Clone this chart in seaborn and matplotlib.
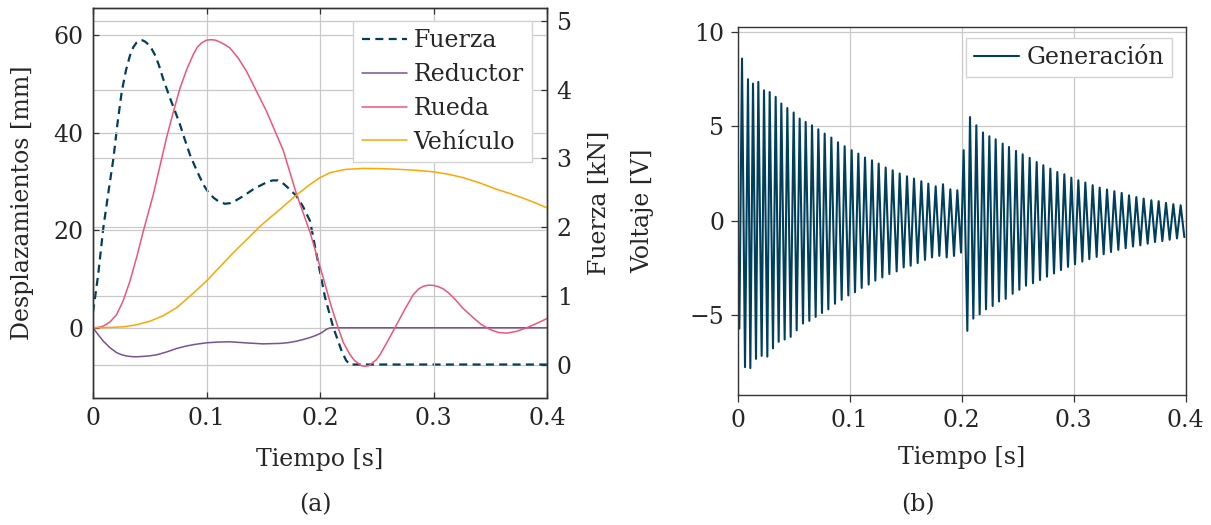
import numpy as np
import pandas as pd
import matplotlib
matplotlib.use("Agg")
import matplotlib.pyplot as plt
import seaborn as sns

# ---------------- data: panel (a) ----------------
fuerza_t = [0, 0.0045, 0.0091, 0.0135, 0.018, 0.0215, 0.0253, 0.029, 0.0326, 0.0355,
            0.0385, 0.0410, 0.0435, 0.0460, 0.0487, 0.0515, 0.0545, 0.0580, 0.0620, 0.0678,
            0.0720, 0.0767, 0.0810, 0.0855, 0.0915, 0.0972, 0.1015, 0.1061, 0.1110, 0.1163,
            0.1210, 0.1260, 0.1322, 0.1420, 0.1527, 0.1580, 0.1630, 0.1680, 0.1740, 0.1794,
            0.1850, 0.1912, 0.1970, 0.2044, 0.2117, 0.2190, 0.2230, 0.2264, 0.4]
fuerza_kn = [0.76, 1.30, 1.99, 2.50, 3.00, 3.50, 3.97, 4.28, 4.50, 4.62,
             4.69, 4.72, 4.72, 4.70, 4.66, 4.60, 4.51, 4.36, 4.15, 3.88,
             3.70, 3.49, 3.27, 3.05, 2.82, 2.62, 2.51, 2.43, 2.37, 2.34,
             2.35, 2.39, 2.45, 2.56, 2.65, 2.68, 2.68, 2.63, 2.54, 2.45,
             2.30, 2.09, 1.60, 0.98, 0.54, 0.20, 0.06, 0.0, 0.0]

reductor_t = [0, 0.0045, 0.0091, 0.015, 0.0208, 0.0255, 0.0300, 0.0345, 0.0385, 0.045,
              0.0500, 0.056, 0.065, 0.0736, 0.082, 0.09, 0.1, 0.11, 0.1207, 0.1350,
              0.1498, 0.1650, 0.1720, 0.1792, 0.1860, 0.1912, 0.1960, 0.1999, 0.2030, 0.2058,
              0.2085, 0.2110, 0.4]
reductor_mm = [0, -1.4, -2.75, -4.1, -5.1, -5.55, -5.8, -5.92, -5.95, -5.85,
               -5.75, -5.55, -4.95, -4.25, -3.75, -3.4, -3.08, -2.93, -2.87, -3.1,
               -3.3, -3.2, -3.05, -2.75, -2.35, -2.0, -1.6, -1.2, -0.75, -0.3,
               -0.05, 0, 0]

rueda_t = [0, 0.005, 0.0091, 0.015, 0.0208, 0.0265, 0.0326, 0.0385, 0.0443, 0.0531,
           0.059, 0.0648, 0.0708, 0.0767, 0.0826, 0.0884, 0.092, 0.096, 0.100, 0.104,
           0.108, 0.112, 0.116, 0.1207, 0.128, 0.1353, 0.1529, 0.1676, 0.1792, 0.1912,
           0.2029, 0.2100, 0.2160, 0.2205, 0.2264, 0.2300, 0.2360, 0.2396, 0.2430, 0.2495,
           0.2529, 0.2600, 0.2676, 0.2750, 0.2822, 0.2870, 0.2910, 0.2955, 0.2998, 0.3040,
           0.3085, 0.3130, 0.3175, 0.3260, 0.3351, 0.3420, 0.3498, 0.3570, 0.3645, 0.3730,
           0.3821, 0.3910, 0.4]
rueda_mm = [0, 0.1, 0.33, 1.2, 2.7, 5.5, 9.6, 14.5, 19.8, 27.3,
            33.2, 39.0, 44.3, 49.2, 53.0, 56.1, 57.6, 58.5, 59.0, 59.1,
            59.0, 58.6, 58.1, 57.4, 55.3, 52.6, 44.4, 36.4, 27.5, 19.6,
            10.2, 4.3, 0.0, -3.0, -5.5, -6.6, -7.75, -7.9, -7.75, -6.6,
            -5.5, -2.6, 0.7, 3.9, 6.8, 8.0, 8.5, 8.75, 8.7, 8.45,
            8.0, 7.2, 6.2, 4.0, 2.05, 0.7, -0.35, -0.95, -1.1, -0.75,
            0.0, 0.9, 1.9]

vehiculo_t = [0, 0.0135, 0.0267, 0.038, 0.0502, 0.062, 0.0736, 0.0855, 0.1, 0.1118,
              0.1236, 0.1354, 0.1471, 0.1560, 0.1648, 0.178, 0.1912, 0.2, 0.2088, 0.2160,
              0.2230, 0.2381, 0.2540, 0.2700, 0.2850, 0.2998, 0.3130, 0.3262, 0.3410, 0.3557,
              0.3680, 0.3800, 0.3900, 0.4]
vehiculo_mm = [0, 0.05, 0.2, 0.6, 1.35, 2.5, 4.1, 6.5, 9.6, 12.5,
               15.4, 18.1, 20.8, 22.6, 24.3, 27.0, 29.4, 30.8, 31.8, 32.2,
               32.5, 32.7, 32.65, 32.5, 32.3, 32.0, 31.5, 30.8, 29.7, 28.4,
               27.5, 26.5, 25.6, 24.6]

# ---------------- data: panel (b) (read extrema of the oscillation) ----------------
gen_peak_t = [0.00358, 0.00894, 0.01341, 0.01817, 0.02324, 0.02831, 0.03367, 0.03873, 0.04410, 0.04976,
              0.05512, 0.06048, 0.06615, 0.07181, 0.07747, 0.08343, 0.08939, 0.09534, 0.10160, 0.10756,
              0.11352, 0.11978, 0.12574, 0.13199, 0.13825, 0.14451, 0.15106, 0.15732, 0.16387, 0.17013,
              0.17669, 0.18324, 0.18979, 0.19605,
              0.20171, 0.20737, 0.21304, 0.21899, 0.22466, 0.23032, 0.23657, 0.24223, 0.24849, 0.25445,
              0.26071, 0.26697, 0.27292, 0.27918, 0.28544, 0.29169, 0.29795, 0.30421, 0.31047, 0.31702,
              0.32328, 0.32983, 0.33639, 0.34294, 0.34950, 0.35605, 0.36261, 0.36946, 0.37601, 0.38257,
              0.38912, 0.39568]
gen_peak_v = [8.61, 7.51, 7.28, 7.37, 6.92, 6.83, 6.57, 6.22, 5.98, 5.74,
              5.42, 5.24, 5.06, 4.85, 4.62, 4.41, 4.16, 3.95, 3.74, 3.56,
              3.35, 3.20, 3.03, 2.82, 2.67, 2.50, 2.35, 2.23, 2.09, 1.96,
              1.82, 1.93, 1.66, 1.61,
              3.74, 5.50, 5.06, 4.68, 4.48, 4.32, 4.09, 3.91, 3.70, 3.52,
              3.33, 3.11, 2.94, 2.76, 2.58, 2.46, 2.28, 2.14, 2.02, 1.88,
              1.75, 1.65, 1.56, 1.47, 1.34, 1.25, 1.17, 1.08, 1.03, 0.94,
              0.87, 0.81]
gen_trough_t = [0.0012, 0.00626, 0.01102, 0.01609, 0.02115, 0.02622, 0.03128, 0.03635, 0.04171, 0.04708,
                0.05244, 0.05810, 0.06376, 0.06942, 0.07508, 0.08074, 0.08670, 0.09266, 0.09862, 0.10458,
                0.11054, 0.11680, 0.12276, 0.12901, 0.13527, 0.14183, 0.14808, 0.15434, 0.16060, 0.16715,
                0.17341, 0.17996, 0.18652, 0.19307, 0.19933,
                0.20499, 0.21035, 0.21601, 0.22168, 0.22763, 0.23330, 0.23926, 0.24551, 0.25147, 0.25743,
                0.26369, 0.26994, 0.27620, 0.28246, 0.28871, 0.29497, 0.30123, 0.30778, 0.31404, 0.32060,
                0.32685, 0.33341, 0.33996, 0.34652, 0.35307, 0.35963, 0.36618, 0.37274, 0.37929, 0.38585,
                0.39240, 0.39896]
gen_trough_v = [-5.74, -7.79, -7.84, -7.35, -7.19, -7.23, -6.79, -6.44, -6.32, -6.18,
                -5.83, -5.47, -5.33, -5.12, -4.91, -4.72, -4.42, -4.21, -3.98, -3.81,
                -3.58, -3.40, -3.19, -3.02, -2.84, -2.70, -2.49, -2.40, -2.26, -2.09,
                -1.96, -1.88, -1.96, -1.88, -1.70,
                -5.86, -5.21, -4.98, -4.72, -4.54, -4.30, -4.16, -3.89, -3.68, -3.46,
                -3.33, -3.16, -2.98, -2.81, -2.63, -2.46, -2.32, -2.18, -2.05, -1.93,
                -1.79, -1.67, -1.56, -1.47, -1.38, -1.32, -1.23, -1.14, -1.09, -1.02,
                -0.95, -0.88]

# ---------------- ticks / labels ----------------
time_ticks = [0, 0.1, 0.2, 0.3, 0.4]
time_tick_labels = ["0", "0.1", "0.2", "0.3", "0.4"]
mm_ticks = [0, 20, 40, 60]
kn_ticks = [0, 1, 2, 3, 4, 5]
volt_ticks = [-5, 0, 5, 10]

C_FUERZA = "#003f5c"
C_REDUCTOR = "#7a5195"
C_RUEDA = "#ef5675"
C_VEHICULO = "#ffa600"
C_GEN = "#003f5c"
GRID = "#c9c9c9"
SPINE = "#333333"

sns.set_theme(style="whitegrid")
plt.rcParams["font.family"] = ["DejaVu Serif"]
plt.rcParams["font.size"] = 17
plt.rcParams["axes.unicode_minus"] = True

fig = plt.figure(figsize=(12.11, 5.25), dpi=100)
fig.patch.set_facecolor("white")

W, H = 1211.0, 525.0
axA = fig.add_axes([93 / W, 1 - 397.5 / H, 454 / W, 389.5 / H])
axK = axA.twinx()
axB = fig.add_axes([738 / W, 1 - 395 / H, 447.5 / W, 367.7 / H])

# main axes above the twin so the twin's grid sits underneath
axA.set_zorder(axK.get_zorder() + 1)
axA.patch.set_visible(False)
axK.set_facecolor("white")

for a in (axA, axK, axB):
    a.grid(True, color=GRID, linewidth=0.9)
    for s in a.spines.values():
        s.set_color(SPINE)
        s.set_linewidth(1.0)

# ---- panel (a) ----
sns.lineplot(x=fuerza_t, y=fuerza_kn, ax=axK, color=C_FUERZA, linewidth=1.6,
             estimator=None, sort=False)
lf = axK.lines[-1]
lf.set_dashes([3.6, 2.4])
sns.lineplot(x=reductor_t, y=reductor_mm, ax=axA, color=C_REDUCTOR, linewidth=1.1,
             estimator=None, sort=False)
lr = axA.lines[-1]
sns.lineplot(x=rueda_t, y=rueda_mm, ax=axA, color=C_RUEDA, linewidth=1.1,
             estimator=None, sort=False)
lu = axA.lines[-1]
sns.lineplot(x=vehiculo_t, y=vehiculo_mm, ax=axA, color=C_VEHICULO, linewidth=1.1,
             estimator=None, sort=False)
lv = axA.lines[-1]
for ln in (lf, lr, lu, lv):
    ln.set_solid_joinstyle("round")
    ln.set_dash_joinstyle("round")

axA.set_xlim(0, 0.4)
axA.set_ylim(-14.3, 65.6)
axK.set_ylim(-0.48, 5.19)
axA.set_xticks(time_ticks)
axA.set_xticklabels(time_tick_labels)
axA.set_yticks(mm_ticks)
axK.set_yticks(kn_ticks)
axK.grid(True, axis="y", color=GRID, linewidth=0.9)
axK.grid(False, axis="x")

axA.tick_params(axis="both", direction="in", length=4, width=0.9, color=SPINE,
                labelsize=17, pad=7)
axA.tick_params(axis="x", top=True, bottom=True)
axA.tick_params(axis="y", left=True, right=False)
axK.tick_params(axis="y", direction="in", length=4, width=0.9, color=SPINE,
                labelsize=17, right=True, pad=7)

axA.set_xlabel("Tiempo [s]", fontsize=17)
axA.set_ylabel("Desplazamientos [mm]", fontsize=17)
axK.set_ylabel("Fuerza [kN]", fontsize=17)
axA.xaxis.set_label_coords(0.5, -0.13)
axA.yaxis.set_label_coords(-0.13, 0.5)
axK.yaxis.set_label_coords(1.09, 0.5)

leg = axA.legend([lf, lr, lu, lv], ["Fuerza", "Reductor", "Rueda", "Vehículo"],
                 loc="upper right", bbox_to_anchor=(0.967, 0.967), borderaxespad=0,
                 fontsize=17, frameon=True, fancybox=False, framealpha=1,
                 edgecolor="#d4d4d4", handlelength=1.9, handletextpad=0.3,
                 labelspacing=0.46, borderpad=0.35)
leg.get_frame().set_linewidth(1.0)

# ---- panel (b) ----
gen = pd.DataFrame({"t": gen_peak_t + gen_trough_t, "v": gen_peak_v + gen_trough_v})
gen = gen.sort_values("t")
sns.lineplot(data=gen, x="t", y="v", ax=axB, color=C_GEN, linewidth=1.5,
             estimator=None, sort=False, label="Generación")

axB.set_xlim(0, 0.4)
axB.set_ylim(-9.27, 10.27)
axB.set_xticks(time_ticks)
axB.set_xticklabels(time_tick_labels)
axB.set_yticks(volt_ticks)
axB.tick_params(axis="both", direction="out", length=5, width=0.9, color=SPINE,
                labelsize=17, pad=5, left=True, bottom=True)
axB.set_xlabel("Tiempo [s]", fontsize=17)
axB.set_ylabel("Voltaje [V]", fontsize=17)
axB.xaxis.set_label_coords(0.5, -0.14)
axB.yaxis.set_label_coords(-0.188, 0.5)
legB = axB.legend(loc="upper right", bbox_to_anchor=(0.970, 0.971), borderaxespad=0,
                  fontsize=17, frameon=True, fancybox=False, framealpha=1,
                  edgecolor="#d4d4d4", handlelength=1.9, handletextpad=0.3,
                  borderpad=0.35)
legB.get_frame().set_linewidth(1.0)

fig.text(315 / W, 1 - 505 / H, "(a)", ha="center", va="center", fontsize=17)
fig.text(918 / W, 1 - 505 / H, "(b)", ha="center", va="center", fontsize=17)

fig.savefig("out.png", dpi=100, facecolor="white")
